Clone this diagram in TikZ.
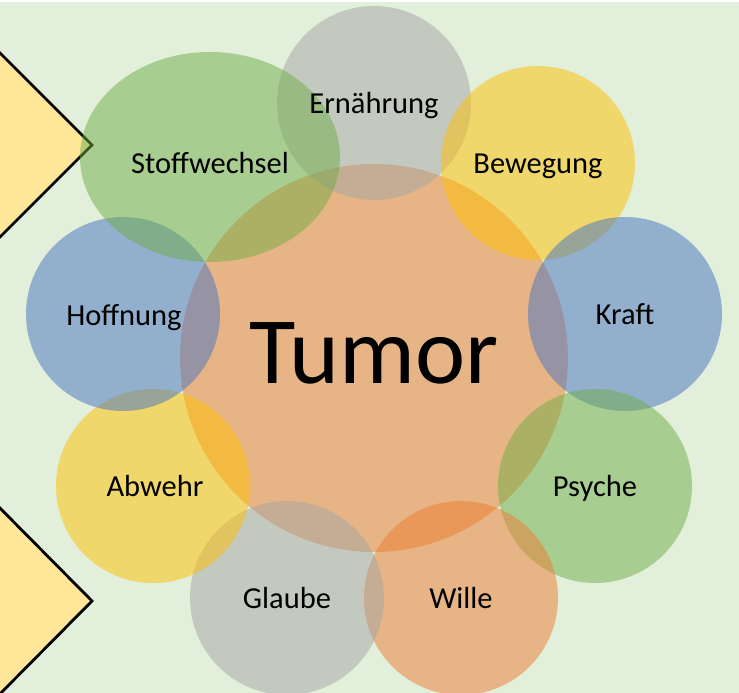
\documentclass[tikz,border=0pt]{standalone}
\usepackage{fontspec}
\setmainfont{Carlito}
\usetikzlibrary{shapes.geometric}
\definecolor{bgc}{HTML}{E2EFDA}
\definecolor{chevc}{HTML}{FFE699}
\definecolor{cgreen}{HTML}{70AD47}
\definecolor{cgray}{HTML}{A5A5A5}
\definecolor{cyellow}{HTML}{FFC000}
\definecolor{cblue}{HTML}{4472C4}
\definecolor{corange}{HTML}{ED7D31}
\tikzset{
  bub/.style={circle, draw=none, fill opacity=0.5, minimum size=194pt, inner sep=0pt},
  lbl/.style={anchor=base, inner sep=0pt, font=\fontsize{30.5}{36}\selectfont},
  chev/.style={fill=chevc, draw=black, line width=2.8pt, miter limit=10}
}
\begin{document}
\begin{tikzpicture}[x=1pt,y=-1pt]
\useasboundingbox (0,0) rectangle (739,693);
\fill[white] (0,0) rectangle (739,693);
\begin{scope}
\clip (0,0) rectangle (739,693);
\fill[bgc] (0,2) rectangle (739,693);
\filldraw[chev] (-10,43) -- (92,145) -- (-10,247) -- cycle;
\filldraw[chev] (-10,498) -- (92,601) -- (-10,704) -- cycle;
% central
\node[bub, fill=corange, minimum size=388pt] (tumor) at (374,358) {};
% outer
\node[bub, fill=cgray] (ern) at (374,103) {};
\node[bub, fill=cyellow] (bew) at (538,163) {};
\node[bub, fill=cblue] (kraft) at (625,314) {};
\node[bub, fill=cgreen] (psy) at (595,486) {};
\node[bub, fill=corange] (wil) at (461,598) {};
\node[bub, fill=cgray] (gla) at (287,598) {};
\node[bub, fill=cyellow] (abw) at (153,486) {};
\node[bub, fill=cblue] (hof) at (123,314) {};
\node[ellipse, draw=none, fill=cgreen, fill opacity=0.5, minimum width=260pt, minimum height=210pt, inner sep=0pt] (stoff) at (210,157) {};
\end{scope}
% labels
\node[anchor=base, inner sep=0pt, font=\fontsize{95}{100}\selectfont] (ttumor) at (374,383) {Tumor};
\node[lbl] (tern) at (374,113) {Ernährung};
\node[lbl] (tbew) at (538,173) {Bewegung};
\node[lbl] (tkraft) at (625,324) {Kraft};
\node[lbl] (tpsy) at (595,496) {Psyche};
\node[lbl] (twil) at (461,608) {Wille};
\node[lbl] (tgla) at (287,608) {Glaube};
\node[lbl] (tabw) at (155,496) {Abwehr};
\node[lbl] (thof) at (124,325) {Hoffnung};
\node[lbl] (tstoff) at (210,173) {Stoffwechsel};
\end{tikzpicture}
\end{document}
